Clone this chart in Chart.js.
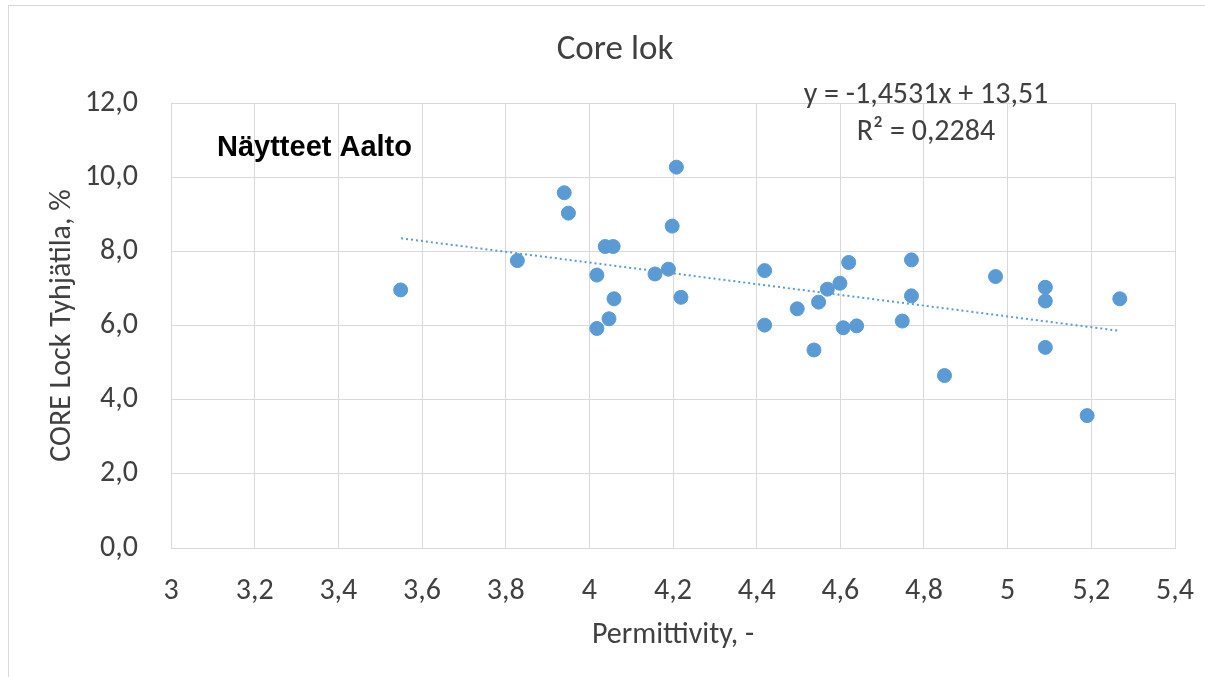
<!DOCTYPE html>
<html>
<head>
<meta charset="utf-8">
<script src="https://cdn.jsdelivr.net/npm/chart.js@4.4.0/dist/chart.umd.min.js"></script>
<style>
  html, body { margin: 0; padding: 0; background: #fff; }
  #wrap { width: 1205px; height: 677px; }
</style>
</head>
<body>
<div id="wrap"><canvas id="coreChart" width="1205" height="677"></canvas></div>
<script>
// Core lok: permittivity vs CORE Lock void content
const permittivity = [
  3.549, 3.828, 3.940, 3.950, 4.038, 4.057, 4.018, 4.059, 4.047, 4.018,
  4.208, 4.198, 4.157, 4.189, 4.219, 4.419, 4.419, 4.497, 4.537, 4.548,
  4.569, 4.599, 4.620, 4.607, 4.639, 4.748, 4.770, 4.770, 4.849, 4.971,
  5.090, 5.090, 5.090, 5.190, 5.268
];
const voidPct = [
  6.96, 7.75, 9.58, 9.03, 8.13, 8.13, 7.36, 6.72, 6.18, 5.92,
  10.27, 8.68, 7.39, 7.52, 6.76, 7.48, 6.01, 6.45, 5.34, 6.63,
  6.98, 7.14, 7.70, 5.94, 5.99, 6.12, 7.77, 6.80, 4.65, 7.32,
  7.03, 6.66, 5.41, 3.57, 6.72
];
// linear trendline as printed on the chart
const trendSlope = -1.4531;
const trendIntercept = 13.51;
const trendX = [3.55, 5.265];
const xTicks = [3, 3.2, 3.4, 3.6, 3.8, 4, 4.2, 4.4, 4.6, 4.8, 5, 5.2, 5.4];
const yTicks = [0, 2, 4, 6, 8, 10, 12];

const FONT = 'Carlito, Lato, "Open Sans", sans-serif';
const GREY = '#404040';
const GRID = '#d9d9d9';
const BLUE = '#5B9BD5';

const points = permittivity.map((x, i) => ({ x: x, y: voidPct[i] }));
const trend = trendX.map(x => ({ x: x, y: trendSlope * x + trendIntercept }));

const fmtComma = (v, digits) => (digits == null ? String(+v.toFixed(1)) : v.toFixed(digits)).replace('.', ',');

const textPlugin = {
  id: 'texts',
  afterDraw(chart) {
    const c = chart.ctx;
    c.save();
    // outer frame
    c.strokeStyle = GRID;
    c.lineWidth = 1;
    c.strokeRect(8.5, 5.5, 1300, 800);
    c.fillStyle = GREY;
    c.textAlign = 'center';
    c.textBaseline = 'alphabetic';
    c.font = '35px ' + FONT;
    c.fillText('Core lok', 615, 59);
    c.textBaseline = 'middle';
    c.font = '30px ' + FONT;
    c.fillText('y = -1,4531x + 13,51', 926, 95);
    c.fillText('R\u00b2 = 0,2284', 926, 132);
    c.fillStyle = '#000';
    c.textAlign = 'left';
    c.textBaseline = 'alphabetic';
    c.font = 'bold 29px "Liberation Sans", Arial, sans-serif';
    c.fillText('N\u00e4ytteet Aalto', 217, 156);
    c.restore();
  }
};

new Chart(document.getElementById('coreChart'), {
  type: 'scatter',
  data: {
    datasets: [
      {
        label: 'CORE Lock',
        data: points,
        backgroundColor: BLUE,
        borderColor: BLUE,
        pointRadius: 7,
        pointHoverRadius: 7
      },
      {
        type: 'line',
        label: 'Trend',
        data: trend,
        borderColor: BLUE,
        borderWidth: 2,
        borderDash: [2, 3],
        pointRadius: 0,
        fill: false
      }
    ]
  },
  options: {
    responsive: false,
    animation: false,
    layout: { padding: { left: 0, right: 30, top: 103, bottom: 0 } },
    plugins: { legend: { display: false }, tooltip: { enabled: false } },
    scales: {
      x: {
        type: 'linear',
        min: 3, max: 5.4,
        afterBuildTicks: s => { s.ticks = xTicks.map(v => ({ value: v })); },
        afterFit: s => { s.height = 129; s.paddingLeft = 0; s.paddingRight = 0; },
        grid: { color: GRID, drawTicks: false },
        border: { color: GRID },
        ticks: {
          color: GREY, padding: 25,
          font: { family: FONT, size: 30 },
          callback: v => fmtComma(v)
        },
        title: {
          display: true, text: 'Permittivity, -', color: GREY,
          font: { family: FONT, size: 30 },
          padding: { top: 0, bottom: 24 }
        }
      },
      y: {
        min: 0, max: 12,
        afterBuildTicks: s => { s.ticks = yTicks.map(v => ({ value: v })); },
        afterFit: s => { s.width = 171; },
        grid: { color: GRID, drawTicks: false },
        border: { color: GRID },
        ticks: {
          color: GREY, padding: 33,
          font: { family: FONT, size: 30 },
          callback: v => fmtComma(v, 1)
        },
        title: {
          display: true, text: 'CORE Lock Tyhj\u00e4tila, %', color: GREY,
          font: { family: FONT, size: 30 },
          padding: { top: 44, bottom: 0 }
        }
      }
    }
  },
  plugins: [textPlugin]
});
</script>
</body>
</html>
